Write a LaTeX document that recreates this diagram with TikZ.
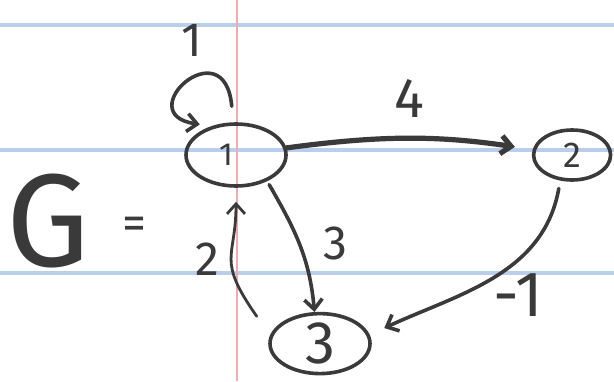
\documentclass[tikz,border=0pt]{standalone}
\usepackage{fontspec}
\setmainfont{Fira Sans}
\usetikzlibrary{arrows.meta,positioning,shapes.geometric}
\definecolor{ink}{RGB}{58,58,58}
\definecolor{rule}{RGB}{184,206,236}
\definecolor{margin}{RGB}{240,170,180}

\begin{document}
\begin{tikzpicture}[
  x=1pt, y=1pt, >={Straight Barb[length=5pt,width=9pt]},
  every node/.style={text=ink},
  vertex/.style={draw=ink, ellipse, line width=1.8pt, inner sep=0pt},
  edge/.style={->, draw=ink, line width=1.8pt, line cap=round},
  lbl/.style={font=\fontsize{24}{24}\selectfont},
]
\useasboundingbox (0,0) rectangle (307,190.5);
% ruled paper
\foreach \y in {178,115.5,54}
  \draw[rule, line width=1.6pt] (0,\y) -- (307,\y);
\draw[margin, line width=0.8pt] (118.5,0) -- (118.5,190.5);

% vertices
\node[vertex, minimum width=50pt, minimum height=31pt,
      font=\fontsize{16}{16}\selectfont] (n1) at (118,113) {\kern-10pt1};
\node[vertex, minimum width=38.5pt, minimum height=25pt,
      font=\fontsize{18}{18}\selectfont, right=122pt of n1] (n2) {2};
\node[vertex, minimum width=50pt, minimum height=30pt,
      font=\fontsize{30}{30}\selectfont, below=62pt of n1, xshift=42pt] (n3) {3};

\node[font=\fontsize{66}{66}\selectfont] (g) at (24,80) {G};
\node[font=\fontsize{24}{24}\selectfont] (eq) at (67,76.5) {=};

% edges
\draw[edge, shorten <=8pt, shorten >=6pt] (n1.95)
  .. controls +(95:48) and +(172:42) .. (n1.130)
  node[lbl, pos=0.4, above=7pt, xshift=-3pt] {1};
\draw[edge, line width=2.6pt, shorten >=9pt] (n1) to[bend left=8]
  node[lbl, font=\fontsize{28}{28}\selectfont, above=6pt] {4} (n2);
\draw[edge, shorten <=2pt] (n1.-40) to[out=-60, in=95]
  node[lbl, right=8pt] {3} (n3.100);
\draw[edge, line width=1.4pt, shorten >=7pt] ([shift={(-11pt,4pt)}]n3.155)
  to[out=125, in=-90, looseness=1.4] node[lbl, left=2pt, yshift=-1pt] {2} (n1.south);
\draw[edge, shorten <=4pt, shorten >=8pt] (n2.245) to[out=-100, in=25]
  node[lbl, font=\fontsize{32}{32}\selectfont, below right=-6.5pt and -3pt] {-1} (n3.10);
\end{tikzpicture}
\end{document}
